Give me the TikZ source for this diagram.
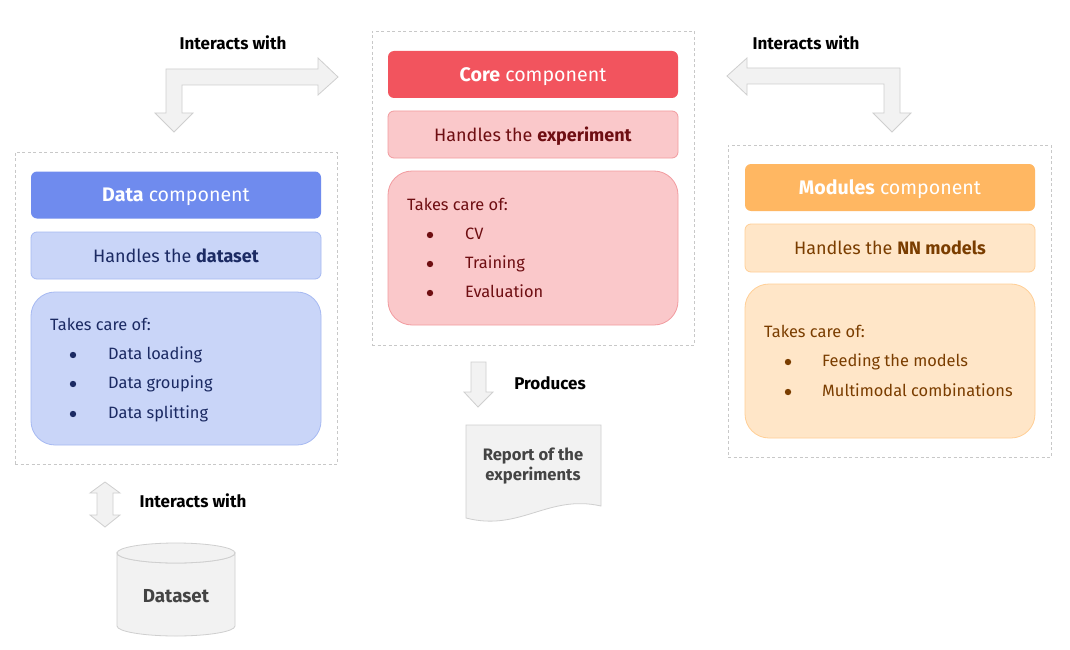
\documentclass[tikz,border=0pt]{standalone}
\usepackage{fontspec}
\setmainfont{Fira Sans}
\definecolor{dhead}{HTML}{6F8BEE}
\definecolor{dlight}{HTML}{C9D5F8}
\definecolor{dline}{HTML}{A6B9F2}
\definecolor{dtext}{HTML}{1B2A63}
\definecolor{chead}{HTML}{F2545E}
\definecolor{clight}{HTML}{FAC8CA}
\definecolor{cline}{HTML}{F29B9F}
\definecolor{ctext}{HTML}{6E0E12}
\definecolor{mhead}{HTML}{FFB762}
\definecolor{mlight}{HTML}{FFE6C8}
\definecolor{mline}{HTML}{FFCF96}
\definecolor{mtext}{HTML}{7A3D00}
\definecolor{gfill}{HTML}{F2F2F2}
\definecolor{gline}{HTML}{CFCFCF}
\definecolor{gtext}{HTML}{444444}
\definecolor{dashc}{HTML}{C8C8C8}
\tikzset{
  outerbox/.style={draw=dashc, dash pattern=on 3pt off 2.5pt, line width=0.8pt, minimum width=322pt, inner sep=0pt},
  headbox/.style={rounded corners=6pt, minimum width=290pt, minimum height=47pt, text=white, font=\fontsize{19.6}{22}\selectfont, inner sep=0pt, text depth=0pt},
  handbox/.style={rounded corners=6pt, minimum width=290pt, minimum height=47pt, font=\fontsize{18}{20}\selectfont, inner sep=0pt, line width=0.8pt, text depth=0pt},
  carebox/.style={rounded corners=24pt, minimum width=290pt, minimum height=154pt, inner sep=0pt, line width=0.8pt},
  bodytext/.style={anchor=west, font=\fontsize{16.4}{18}\selectfont, inner sep=0pt, text height=12pt, text depth=3.6pt},
  lbl/.style={font=\bfseries\fontsize{17}{19}\selectfont, text=black, inner sep=0pt},
  blockarrow/.style={fill=gfill, draw=gline, line width=0.8pt, line join=miter},
  grayshape/.style={fill=gfill, draw=gline, line width=0.8pt},
}
\begin{document}
\begin{tikzpicture}[x=1pt,y=-1pt]
\useasboundingbox[fill=white] (0,0) rectangle (1070,650);

% ---------- Data component ----------
\node[outerbox, minimum height=312pt] (dout) at (176,308) {};
\node[headbox, fill=dhead] (dhead) at (176,195) {\textbf{Data} component};
\node[handbox, fill=dlight, draw=dline, text=dtext] (dhand) at (176,255.5) {Handles the \textbf{dataset}};
\node[carebox, fill=dlight, draw=dline, minimum height=153pt] (dcare) at (176,368.5) {};
\node[bodytext, text=dtext] (dt0) at (50,326) {Takes care of:};
\node[bodytext, text=dtext] (dt1) at (108,355) {Data loading};
\node[bodytext, text=dtext] (dt2) at (108,384) {Data grouping};
\node[bodytext, text=dtext] (dt3) at (108,414) {Data splitting};
\foreach \yy in {355,384,414} \fill[dtext] (73,\yy) circle (3.2);

% ---------- Core component ----------
\node[outerbox, minimum height=314pt] (cout) at (533,188) {};
\node[headbox, fill=chead] (chead) at (533,74.5) {\textbf{Core} component};
\node[handbox, fill=clight, draw=cline, text=ctext] (chand) at (533,134.5) {Handles the \textbf{experiment}};
\node[carebox, fill=clight, draw=cline] (ccare) at (533,248) {};
\node[bodytext, text=ctext] (ct0) at (407,206) {Takes care of:};
\node[bodytext, text=ctext] (ct1) at (465,235) {CV};
\node[bodytext, text=ctext] (ct2) at (465,264) {Training};
\node[bodytext, text=ctext] (ct3) at (465,293) {Evaluation};
\foreach \yy in {235,264,293} \fill[ctext] (430,\yy) circle (3.2);

% ---------- Modules component ----------
\node[outerbox, minimum width=323pt, minimum height=312pt] (mout) at (889.5,301) {};
\node[headbox, fill=mhead] (mhead) at (890,187.5) {\textbf{Modules} component};
\node[handbox, fill=mlight, draw=mline, text=mtext, minimum height=48pt] (mhand) at (890,248) {Handles the \textbf{NN models}};
\node[carebox, fill=mlight, draw=mline] (mcare) at (890,361) {};
\node[bodytext, text=mtext] (mt0) at (764,333) {Takes care of:};
\node[bodytext, text=mtext] (mt1) at (822,362) {Feeding the models};
\node[bodytext, text=mtext] (mt2) at (822,392) {Multimodal combinations};
\foreach \yy in {362,392} \fill[mtext] (788,\yy) circle (3.2);

% ---------- Interaction arrows ----------
\draw[blockarrow] (166,113) -- (166,69) -- (318,69) -- (318,58) -- (338,77) -- (318,95) -- (318,85) -- (182,85) -- (182,113) -- (193,113) -- (174,132) -- (155,113) -- cycle;
\node[lbl] (l1) at (233,43) {Interacts with};

\draw[blockarrow] (727,76) -- (747,58) -- (747,68) -- (900,68) -- (900,113) -- (911,113) -- (892,132) -- (873,113) -- (884,113) -- (884,84) -- (747,84) -- (747,95) -- cycle;
\node[lbl] (l2) at (806,43) {Interacts with};

% ---------- Produces ----------
\draw[blockarrow] (471,362) -- (486,362) -- (486,392) -- (493,392) -- (478,407) -- (464,392) -- (471,392) -- cycle;
\node[lbl] (l3) at (550,383) {Produces};

\draw[grayshape] (466,425) -- (601,425) -- (601,506) .. controls (548,494) and (520,532) .. (466,518) -- cycle;
\node[font=\bfseries\fontsize{16.6}{20}\selectfont, text=gtext, align=center, inner sep=0pt] (rep) at (533,466) {Report of the\\experiments};

% ---------- Dataset ----------
\draw[blockarrow] (105,482) -- (120,493) -- (113,493) -- (113,515) -- (120,515) -- (105,527) -- (90,515) -- (97,515) -- (97,493) -- (90,493) -- cycle;
\node[lbl] (l4) at (193,501) {Interacts with};

\draw[grayshape] (117,553) -- (117,626) arc[start angle=180, end angle=0, x radius=59, y radius=10] -- (235,553) arc[start angle=0, end angle=180, x radius=59, y radius=10] -- cycle;
\draw[grayshape] (176,553) ellipse [x radius=59, y radius=10];
\node[font=\bfseries\fontsize{18.8}{20}\selectfont, text=gtext, inner sep=0pt] (ds) at (176,596) {Dataset};
\end{tikzpicture}
\end{document}
